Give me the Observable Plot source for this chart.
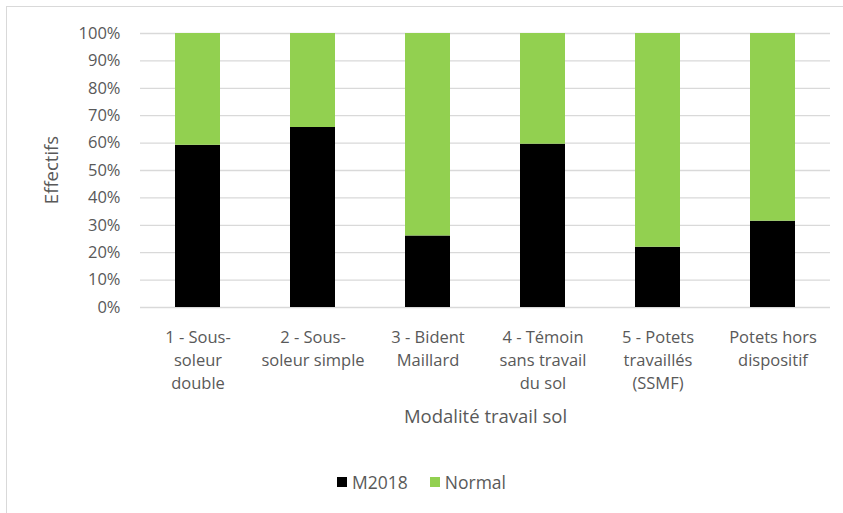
<!DOCTYPE html>
<html>
<head>
<meta charset="utf-8">
<script src="https://cdn.jsdelivr.net/npm/d3@7"></script>
<script src="https://cdn.jsdelivr.net/npm/@observablehq/plot@0.6"></script>
<style>
  html, body { margin: 0; padding: 0; background: #fff; }
  #wrap { position: relative; width: 843px; height: 513px; overflow: hidden; font-family: "Open Sans", sans-serif; }
  #frame { position: absolute; left: 6px; top: 6px; width: 900px; height: 600px; border-left: 1.5px solid #d9d9d9; border-top: 1.5px solid #d9d9d9; }
  #chart { position: absolute; left: 0; top: 0; }
  #ytitle { position: absolute; left: 51px; top: 170px; transform: translate(-50%, -50%) rotate(-90deg); color: #595959; font-size: 18.5px; white-space: nowrap; line-height: 1; }
  #legend { position: absolute; left: 0; top: 470px; width: 843px; display: flex; justify-content: center; align-items: center; gap: 22px; color: #595959; font-size: 17.5px; }
  .item { display: flex; align-items: center; gap: 5px; }
  .sw { width: 10px; height: 10px; display: inline-block; }
</style>
</head>
<body>
<div id="wrap">
  <div id="frame"></div>
  <div id="chart"></div>
  <div id="ytitle"></div>
  <div id="legend"></div>
</div>
<script>
const categories = [
  "1 - Sous-\nsoleur\ndouble",
  "2 - Sous-\nsoleur simple",
  "3 - Bident\nMaillard",
  "4 - Témoin\nsans travail\ndu sol",
  "5 - Potets\ntravaillés\n(SSMF)",
  "Potets hors\ndispositif"
];
const seriesNames = ["M2018", "Normal"];
const seriesColors = ["#000000", "#92d050"];
const m2018 = [59.2, 65.7, 26.1, 59.6, 22.0, 31.5];
const normal = [40.8, 34.3, 73.9, 40.4, 78.0, 68.5];
const yTicks = [0, 10, 20, 30, 40, 50, 60, 70, 80, 90, 100];
const xTitle = "Modalité travail sol";
const yTitle = "Effectifs";

const rows = [];
categories.forEach((c, i) => {
  rows.push({cat: c, series: "M2018", value: m2018[i]});
  rows.push({cat: c, series: "Normal", value: normal[i]});
});

const plot = Plot.plot({
  width: 843,
  height: 450,
  marginTop: 33,
  marginBottom: 143,
  marginLeft: 140,
  marginRight: 13,
  style: { fontFamily: "'Open Sans', sans-serif", fontSize: "16px", color: "#595959", background: "transparent", overflow: "visible" },
  x: { domain: categories, paddingInner: 0.61, paddingOuter: 0.305, label: null },
  y: { domain: [0, 100], label: null },
  color: { domain: seriesNames, range: seriesColors },
  marks: [
    Plot.ruleY(yTicks, { stroke: "#d9d9d9", strokeWidth: 1.3 }),
    Plot.barY(rows, Plot.stackY({ order: seriesNames }, { x: "cat", y: "value", fill: "series" })),
    Plot.axisY(yTicks, { tickSize: 0, tickPadding: 20, tickFormat: d => d + "%", label: null, fontSize: 16.5, fill: "#595959" }),
    Plot.axisX({ tickSize: 0, tickPadding: 19, label: null, fontSize: 16.5, fill: "#595959", lineHeight: 1.4 }),
    Plot.text([xTitle], { frameAnchor: "bottom", dy: 115, text: d => d, fontSize: 18.5, fill: "#595959" })
  ]
});
document.getElementById("chart").appendChild(plot);
document.getElementById("ytitle").textContent = yTitle;

const legend = document.getElementById("legend");
seriesNames.forEach((s, i) => {
  const it = document.createElement("span");
  it.className = "item";
  const sw = document.createElement("span");
  sw.className = "sw";
  sw.style.background = seriesColors[i];
  const t = document.createElement("span");
  t.textContent = s;
  it.appendChild(sw);
  it.appendChild(t);
  legend.appendChild(it);
});
</script>
</body>
</html>
